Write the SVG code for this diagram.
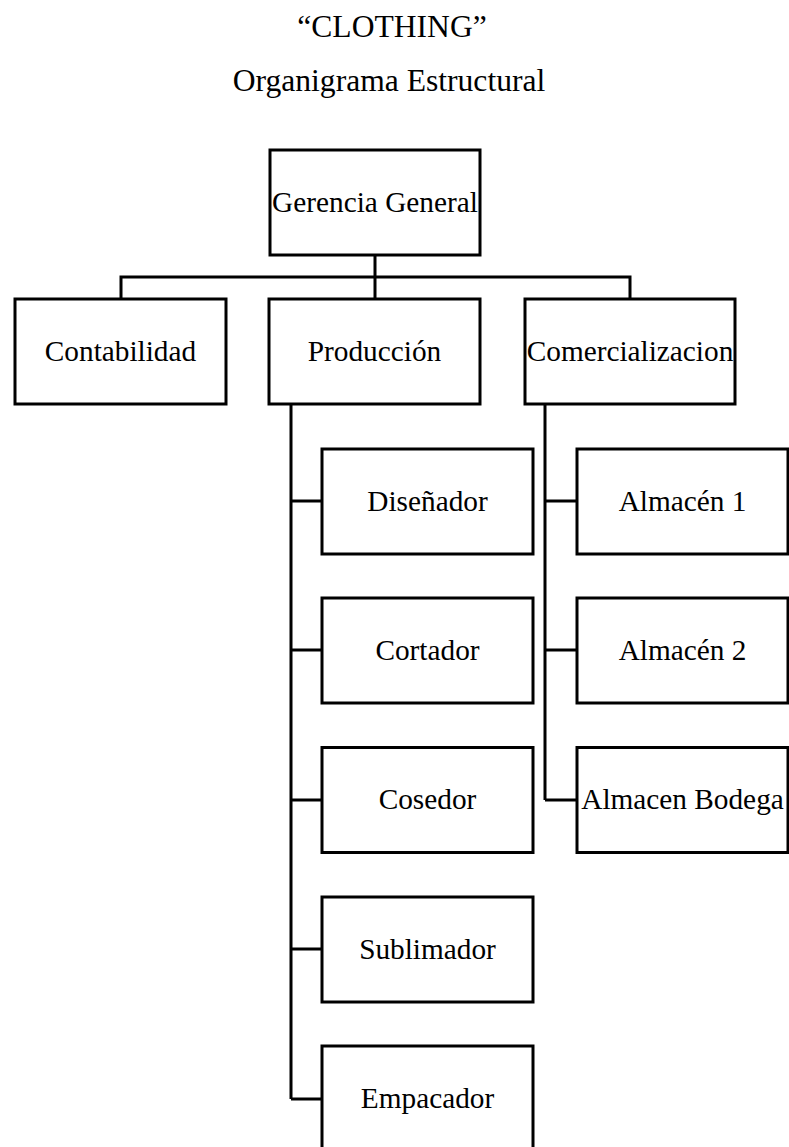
<svg xmlns="http://www.w3.org/2000/svg" width="789" height="1147" viewBox="0 0 789 1147">
  <style>
    .box { fill: #ffffff; stroke: #000000; stroke-width: 3; }
    .lbl { font-family: "Liberation Serif", "Times New Roman", serif; font-size: 29.3px; fill: #000000; text-anchor: middle; }
    .ttl { font-family: "Liberation Serif", "Times New Roman", serif; font-size: 31.6px; fill: #000000; text-anchor: middle; }
    .wire { fill: none; stroke: #000000; stroke-width: 3; }
  </style>
  <rect width="789" height="1147" fill="#ffffff"/>

  <!-- headings -->
  <text class="ttl" x="392" y="37">“CLOTHING”</text>
  <text class="ttl" x="389" y="91">Organigrama Estructural</text>

  <!-- connectors -->
  <g id="connectors">
    <path class="wire" d="M375 255 V277 M121 299 V277 H630 V299 M375 277 V299"/>
    <path class="wire" d="M291 404 V1099 M291 501 H322 M291 650 H322 M291 800 H322 M291 949 H322 M291 1099 H322"/>
    <path class="wire" d="M545 404 V800 M545 501 H577 M545 650 H577 M545 800 H577"/>
  </g>

  <g id="gerencia">
    <rect class="box" x="270" y="150" width="210" height="105"/>
    <text class="lbl" x="375" y="212">Gerencia General</text>
  </g>
  <g id="contabilidad">
    <rect class="box" x="15" y="299" width="211" height="105"/>
    <text class="lbl" x="120.5" y="361">Contabilidad</text>
  </g>
  <g id="produccion">
    <rect class="box" x="269" y="299" width="211" height="105"/>
    <text class="lbl" x="374.5" y="361">Producción</text>
  </g>
  <g id="comercializacion">
    <rect class="box" x="525" y="299" width="210" height="105"/>
    <text class="lbl" x="630" y="361">Comercializacion</text>
  </g>

  <g id="disenador">
    <rect class="box" x="322" y="449" width="211" height="105"/>
    <text class="lbl" x="427.5" y="511">Diseñador</text>
  </g>
  <g id="cortador">
    <rect class="box" x="322" y="598" width="211" height="105"/>
    <text class="lbl" x="427.5" y="660">Cortador</text>
  </g>
  <g id="cosedor">
    <rect class="box" x="322" y="747.5" width="211" height="105"/>
    <text class="lbl" x="427.5" y="809">Cosedor</text>
  </g>
  <g id="sublimador">
    <rect class="box" x="322" y="897" width="211" height="105"/>
    <text class="lbl" x="427.5" y="959">Sublimador</text>
  </g>
  <g id="empacador">
    <rect class="box" x="322" y="1046" width="211" height="105"/>
    <text class="lbl" x="427.5" y="1108">Empacador</text>
  </g>

  <g id="almacen1">
    <rect class="box" x="577" y="449" width="211" height="105"/>
    <text class="lbl" x="682.5" y="511">Almacén 1</text>
  </g>
  <g id="almacen2">
    <rect class="box" x="577" y="598" width="211" height="105"/>
    <text class="lbl" x="682.5" y="660">Almacén 2</text>
  </g>
  <g id="almacen-bodega">
    <rect class="box" x="577" y="747.5" width="211" height="105"/>
    <text class="lbl" x="682.5" y="809">Almacen Bodega</text>
  </g>
</svg>
